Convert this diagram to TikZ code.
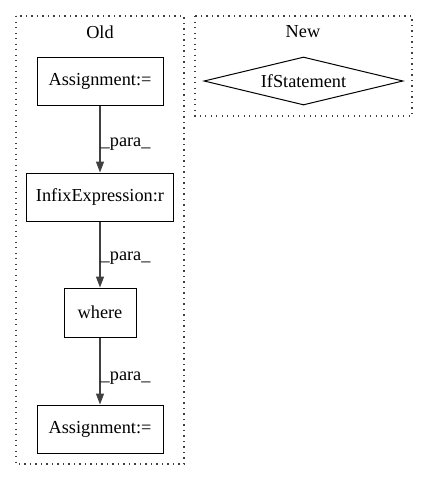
\documentclass[tikz,border=0pt]{standalone}
\usepackage{fontspec}
\setmainfont{Liberation Serif}
\usetikzlibrary{arrows.meta,shapes.geometric}
\usetikzlibrary{positioning}

\begin{document}
\begin{tikzpicture}[%
x={(1pt,0pt)},
y={(0pt,-1pt)},
every node/.style={font=\fontsize{18.3}{21}\selectfont},
box/.style={draw=black,rectangle,inner sep=0pt,line width=1pt},
cluster/.style={draw=black!75,line width=1.1pt,dash pattern=on 1.2pt off 4.3pt},
edge/.style={draw=black!75,line width=1.4pt,-{Triangle[length=11pt,width=8pt]}},
]

\useasboundingbox (0,0) rectangle (429,480);

%Cluster
\draw[cluster] (16,16) rectangle (184,464);
\draw[cluster] (195,16) rectangle (412,116);
\node (old) at (100,32) {Old};
\node (new) at (303,32) {New};

%Knoten
\node[box,minimum width=126pt,minimum height=48pt] (assign1) at (100,81) {Assignment:=};
\node[box,minimum width=147pt,minimum height=48pt] (infix) at (100,197) {InfixExpression:r};
\node[box,minimum width=72pt,minimum height=49pt] (where) at (100,312.5) {where};
\node[box,minimum width=126pt,minimum height=48pt] (assign2) at (100,429) {Assignment:=};
\node[diamond,draw=black,line width=1pt,aspect=4.1,inner sep=0pt,minimum width=199pt,minimum height=48pt] (ifstmt) at (303.5,81) {IfStatement};

%Kanten
\draw[edge] (assign1) -- (infix) node[pos=0.58,anchor=west,inner sep=0pt]{\_para\_};
\draw[edge] (infix) -- (where) node[pos=0.55,anchor=west,inner sep=0pt]{\_para\_};
\draw[edge] (where) -- (assign2) node[pos=0.6,anchor=west,inner sep=0pt]{\_para\_};

\end{tikzpicture}
\end{document}
